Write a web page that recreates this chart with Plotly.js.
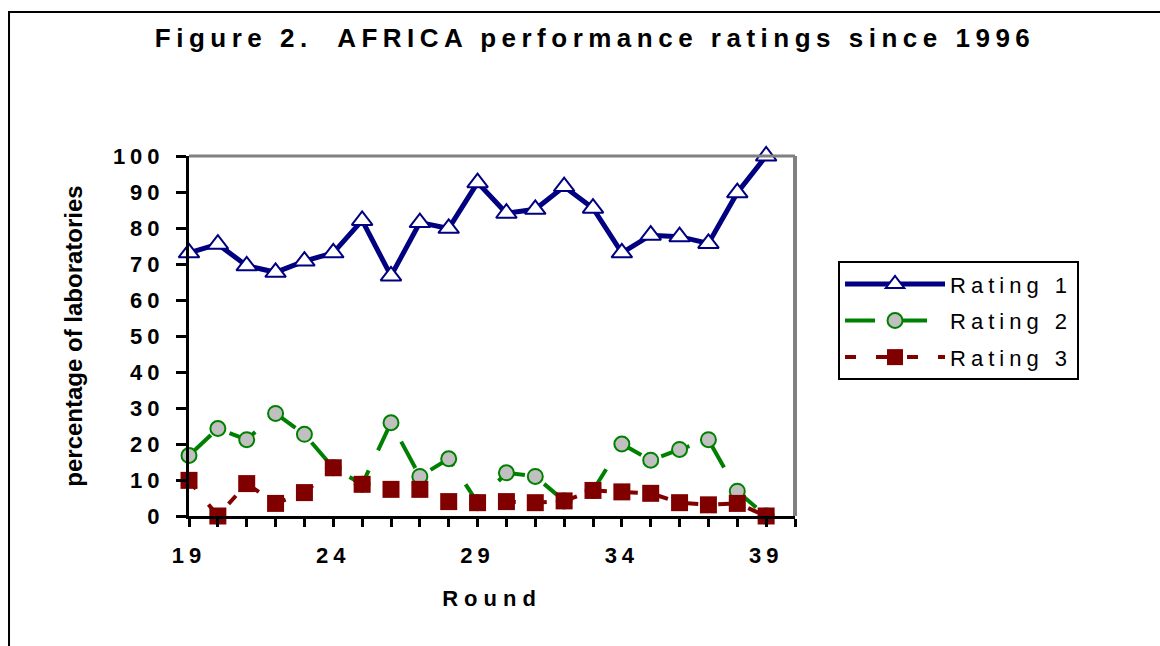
<!DOCTYPE html>
<html>
<head>
<meta charset="utf-8">
<script src="https://cdn.plot.ly/plotly-3.0.1.min.js"></script>
<style>
  html, body { margin: 0; padding: 0; background: #fff; }
  #chart { width: 1160px; height: 646px; }
  .xtick text, .ytick text { letter-spacing: 5px; }
  .gtitle { letter-spacing: 5.5px; }
  .xtitle { letter-spacing: 6px; }
  .legendtext { letter-spacing: 5px; }
</style>
</head>
<body>
<div id="chart"></div>
<script>
// ---- data ----
const rounds = [19, 20, 21, 22, 23, 24, 25, 26, 27, 28, 29, 30, 31, 32, 33, 34, 35, 36, 37, 38, 39];
const rating1 = [73.1, 75.5, 69.5, 67.7, 70.8, 73.1, 82.1, 66.7, 81.5, 79.9, 92.6, 84.1, 85.2, 91.5, 85.5, 73.1, 78.0, 77.6, 75.7, 89.8, 100];
const rating2 = [16.8, 24.3, 21.2, 28.5, 22.7, 13.4, 8.8, 25.9, 11.0, 15.9, 3.7, 12.0, 11.0, 4.2, 7.1, 20.0, 15.5, 18.5, 21.2, 6.9, 0];
const rating3 = [9.9, 0, 9.0, 3.5, 6.5, 13.4, 8.8, 7.4, 7.4, 4.0, 3.7, 4.0, 3.7, 4.2, 7.1, 6.7, 6.3, 3.7, 3.1, 3.5, 0];
const seriesNames = ['Rating 1', 'Rating 2', 'Rating 3'];
const titleText = 'Figure 2.\u00a0 AFRICA performance ratings since 1996';
const xTitle = 'Round';
const yTitle = 'percentage of laboratories';

const FONT = 'Liberation Sans, Arial, sans-serif';

const traces = [
  {
    x: rounds, y: rating1, name: seriesNames[0], legendgroup: 'g1',
    type: 'scatter', mode: 'lines+markers', cliponaxis: false,
    line: { color: '#000080', width: 5 },
    marker: { symbol: 'triangle-up', size: 18, color: '#ffffff', line: { color: '#000080', width: 2 } }
  },
  {
    x: rounds, y: rating2, name: seriesNames[1], legendgroup: 'g2',
    type: 'scatter', mode: 'lines+markers', cliponaxis: false,
    line: { color: '#008000', width: 4, dash: '30px,22px' },
    marker: { symbol: 'circle', size: 15, color: '#c0c0c0', line: { color: '#008000', width: 2 } }
  },
  {
    x: rounds, y: rating3, name: seriesNames[2], legendgroup: 'g3',
    type: 'scatter', mode: 'lines+markers', cliponaxis: false,
    line: { color: '#800000', width: 4, dash: '11px,20px' },
    marker: { symbol: 'square', size: 17, color: '#800000' }
  }
];

const layout = {
  width: 1160, height: 646,
  margin: { l: 189, r: 365, t: 156, b: 130 },
  paper_bgcolor: '#ffffff', plot_bgcolor: '#ffffff',
  font: { family: FONT, color: '#000000' },
  showlegend: true,
  title: {
    text: titleText, xref: 'container', x: 0.513, xanchor: 'center',
    yref: 'container', y: 0.941, yanchor: 'middle',
    font: { family: FONT, size: 26, weight: 'bold', color: '#000' }
  },
  xaxis: {
    range: [19, 40], tick0: 19, dtick: 5, tickmode: 'linear',
    showgrid: false, zeroline: false,
    showline: true, linecolor: '#000', linewidth: 3,
    ticks: 'outside', ticklen: 8, tickwidth: 3, tickcolor: '#000',
    ticklabelstandoff: 10,
    minor: { tick0: 19, dtick: 1, ticks: 'outside', ticklen: 8, tickwidth: 3, tickcolor: '#000', showgrid: false },
    tickfont: { family: FONT, size: 22, weight: 'bold', color: '#000' },
    title: { text: xTitle, standoff: 24, font: { family: FONT, size: 22, weight: 'bold', color: '#000' } },
    fixedrange: true
  },
  yaxis: {
    range: [0, 100], tick0: 0, dtick: 10, tickmode: 'linear',
    showgrid: false, zeroline: false,
    showline: true, linecolor: '#000', linewidth: 3,
    ticks: 'outside', ticklen: 10, tickwidth: 3, tickcolor: '#000',
    ticklabelstandoff: 7,
    tickfont: { family: FONT, size: 22, weight: 'bold', color: '#000' },
    title: { text: yTitle, standoff: 24, font: { family: FONT, size: 24, weight: 'bold', color: '#000' } },
    fixedrange: true
  },
  yaxis2: {
    overlaying: 'y', anchor: 'x', range: [0, 100], tickmode: 'array',
    tickvals: [10, 20, 30, 40, 50], showticklabels: false, ticks: '',
    showgrid: true, gridcolor: '#000000', gridwidth: 1, zeroline: false, showline: false, fixedrange: true
  },
  yaxis3: {
    overlaying: 'y', anchor: 'x', range: [0, 100], tickmode: 'array',
    tickvals: [60, 70, 80, 90], showticklabels: false, ticks: '',
    showgrid: true, gridcolor: '#808080', gridwidth: 2, zeroline: false, showline: false, fixedrange: true
  },
  legend: {
    x: 1.071, y: 0.708, xanchor: 'left', yanchor: 'top',
    bordercolor: '#000', borderwidth: 2, bgcolor: '#ffffff',
    font: { family: FONT, size: 22, color: '#000' },
    itemwidth: 100, tracegroupgap: 5
  },
  shapes: [
    { type: 'line', xref: 'paper', yref: 'paper', x0: 0, x1: 1, y0: 1, y1: 1, line: { color: '#808080', width: 3 } },
    { type: 'line', xref: 'paper', yref: 'paper', x0: 1, x1: 1, y0: 0, y1: 1, line: { color: '#808080', width: 4 } },
    { type: 'rect', xref: 'paper', yref: 'paper', x0: -0.2970, x1: 1.75, y0: -0.5, y1: 1.4, line: { color: '#000', width: 2 }, layer: 'below' }
  ]
};

Plotly.newPlot('chart', traces, layout, { displayModeBar: false, staticPlot: true });
</script>
</body>
</html>
